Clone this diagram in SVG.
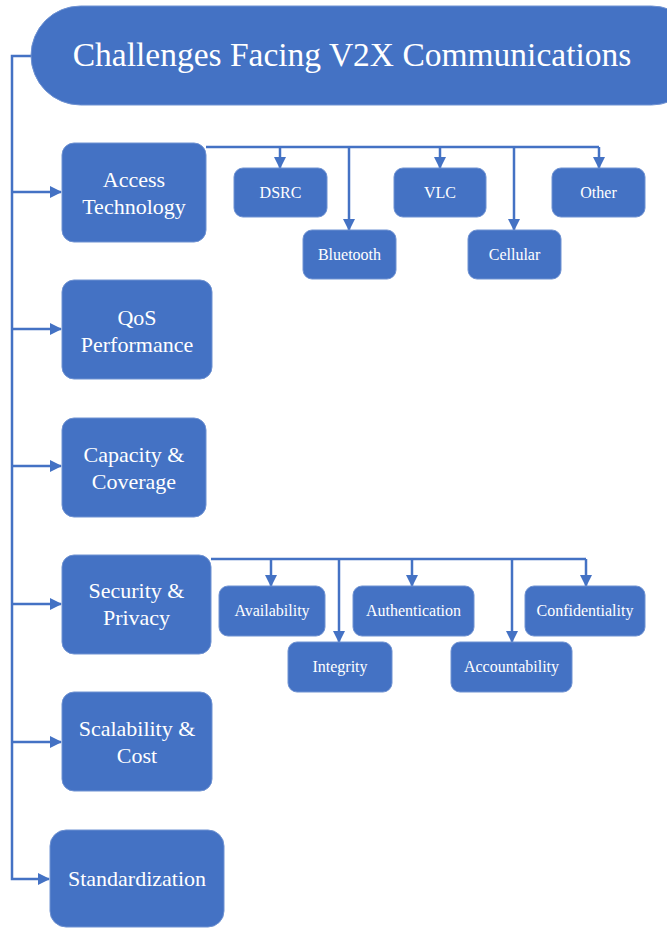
<svg xmlns="http://www.w3.org/2000/svg" width="667" height="928" viewBox="0 0 667 928" font-family="Liberation Serif, serif">
<style>
.box{fill:#4472C4;stroke:#6f92d2;stroke-width:1}
.t{fill:#fff;text-anchor:middle}
.m{font-size:22px}
.s{font-size:16px}
.c{fill:none;stroke:#4472C4;stroke-width:2.5}
</style>
<defs>
<marker id="ah" markerWidth="12" markerHeight="12" refX="11" refY="6" orient="auto" markerUnits="userSpaceOnUse">
<path d="M0,0 L12,6 L0,12 z" fill="#4472C4"/>
</marker>
</defs>
<g id="connectors">
<path class="c" d="M31,56 H12 V879 H49" marker-end="url(#ah)"/>
<path class="c" d="M12,192 H61" marker-end="url(#ah)"/>
<path class="c" d="M12,329 H61" marker-end="url(#ah)"/>
<path class="c" d="M12,466 H61" marker-end="url(#ah)"/>
<path class="c" d="M12,604 H61" marker-end="url(#ah)"/>
<path class="c" d="M12,742 H61" marker-end="url(#ah)"/>
<path class="c" d="M206,147 H599"/>
<path class="c" d="M280,147 V168" marker-end="url(#ah)"/>
<path class="c" d="M349,147 V230" marker-end="url(#ah)"/>
<path class="c" d="M440,147 V168" marker-end="url(#ah)"/>
<path class="c" d="M514,147 V230" marker-end="url(#ah)"/>
<path class="c" d="M599,147 V168" marker-end="url(#ah)"/>
<path class="c" d="M211,559 H586"/>
<path class="c" d="M271,559 V586" marker-end="url(#ah)"/>
<path class="c" d="M339,559 V642" marker-end="url(#ah)"/>
<path class="c" d="M412,559 V586" marker-end="url(#ah)"/>
<path class="c" d="M512,559 V642" marker-end="url(#ah)"/>
<path class="c" d="M586,559 V586" marker-end="url(#ah)"/>
</g>
<g id="title">
<rect class="box" x="31" y="6" width="670" height="99" rx="49.5"/>
<text class="t" x="352" y="66" font-size="33.5">Challenges Facing V2X Communications</text>
</g>
<g id="access">
<rect class="box" x="62" y="143" width="144" height="99" rx="12"/>
<text class="t m" x="134" y="187">Access</text>
<text class="t m" x="134" y="214">Technology</text>
</g>
<g id="dsrc"><rect class="box" x="234" y="168" width="93" height="49" rx="9"/><text class="t s" x="280.5" y="198">DSRC</text></g>
<g id="vlc"><rect class="box" x="394" y="168" width="92" height="49" rx="9"/><text class="t s" x="440" y="198">VLC</text></g>
<g id="other"><rect class="box" x="552" y="168" width="93" height="49" rx="9"/><text class="t s" x="598.5" y="198">Other</text></g>
<g id="bluetooth"><rect class="box" x="303" y="230" width="93" height="49" rx="9"/><text class="t s" x="349.5" y="260">Bluetooth</text></g>
<g id="cellular"><rect class="box" x="468" y="230" width="93" height="49" rx="9"/><text class="t s" x="514.5" y="260">Cellular</text></g>
<g id="qos">
<rect class="box" x="62" y="280" width="150" height="99" rx="12"/>
<text class="t m" x="137" y="325">QoS</text>
<text class="t m" x="137" y="352">Performance</text>
</g>
<g id="capacity">
<rect class="box" x="62" y="418" width="144" height="99" rx="12"/>
<text class="t m" x="134" y="462">Capacity &amp;</text>
<text class="t m" x="134" y="489">Coverage</text>
</g>
<g id="security">
<rect class="box" x="62" y="555" width="149" height="99" rx="12"/>
<text class="t m" x="136.5" y="598">Security &amp;</text>
<text class="t m" x="136.5" y="625">Privacy</text>
</g>
<g id="availability"><rect class="box" x="219" y="586" width="106" height="50" rx="9"/><text class="t s" x="272" y="616">Availability</text></g>
<g id="authentication"><rect class="box" x="353" y="586" width="121" height="50" rx="9"/><text class="t s" x="413.5" y="616">Authentication</text></g>
<g id="confidentiality"><rect class="box" x="525" y="586" width="120" height="50" rx="9"/><text class="t s" x="585" y="616">Confidentiality</text></g>
<g id="integrity"><rect class="box" x="288" y="642" width="104" height="50" rx="9"/><text class="t s" x="340" y="672">Integrity</text></g>
<g id="accountability"><rect class="box" x="451" y="642" width="121" height="50" rx="9"/><text class="t s" x="511.5" y="672">Accountability</text></g>
<g id="scalability">
<rect class="box" x="62" y="692" width="150" height="99" rx="12"/>
<text class="t m" x="137" y="736">Scalability &amp;</text>
<text class="t m" x="137" y="763">Cost</text>
</g>
<g id="standardization">
<rect class="box" x="50" y="830" width="174" height="97" rx="16"/>
<text class="t m" x="137" y="886">Standardization</text>
</g>
</svg>
